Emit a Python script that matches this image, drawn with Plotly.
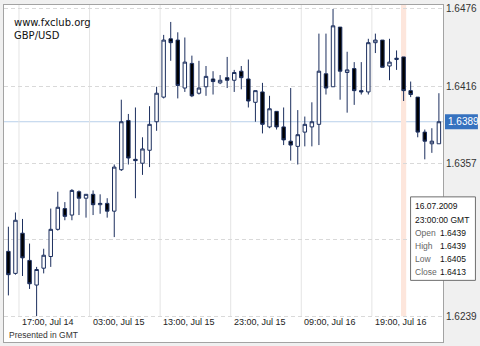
import pandas as pd
import plotly.graph_objects as go

# ---------------- data ----------------
start_time = "2009-07-14 15:00"
n_candles = 62
opens = [1.6289, 1.6272, 1.6303, 1.6282, 1.6263, 1.6276, 1.6285, 1.6306, 1.6322, 1.6317,
         1.6335, 1.6330, 1.6333, 1.6325, 1.6326, 1.6320, 1.6352, 1.6390, 1.6360, 1.6357,
         1.6367, 1.6389, 1.6408, 1.6453, 1.6452, 1.6415, 1.6434, 1.6411, 1.6416, 1.6422,
         1.6419, 1.6423, 1.6421, 1.6428, 1.6422, 1.6404, 1.6412, 1.6385, 1.6397, 1.6385,
         1.6374, 1.6370, 1.6381, 1.6385, 1.6387, 1.6426, 1.6416, 1.6462, 1.6427, 1.6430,
         1.6413, 1.6412, 1.6450, 1.6452, 1.6432, 1.6437, 1.6439, 1.6413, 1.6408, 1.6381,
         1.6372, 1.6372]
highs = [1.6308, 1.6319, 1.6314, 1.6295, 1.6277, 1.6291, 1.6322, 1.6335, 1.6327, 1.6337,
         1.6336, 1.6333, 1.6336, 1.6333, 1.6330, 1.6356, 1.6406, 1.6395, 1.6400, 1.6377,
         1.6401, 1.6416, 1.6456, 1.6466, 1.6458, 1.6454, 1.6440, 1.6436, 1.6432, 1.6428,
         1.6425, 1.6439, 1.6429, 1.6432, 1.6437, 1.6413, 1.6419, 1.6409, 1.6397, 1.6400,
         1.6415, 1.6398, 1.6393, 1.6404, 1.6457, 1.6457, 1.6476, 1.6462, 1.6443, 1.6435,
         1.6435, 1.6453, 1.6457, 1.6452, 1.6453, 1.6444, 1.6439, 1.6420, 1.6408, 1.6383,
         1.6384, 1.6411]
lows = [1.6255, 1.6271, 1.6270, 1.6260, 1.6239, 1.6272, 1.6277, 1.6305, 1.6313, 1.6313,
        1.6317, 1.6315, 1.6317, 1.6318, 1.6315, 1.6300, 1.6351, 1.6356, 1.6330, 1.6348,
        1.6354, 1.6382, 1.6407, 1.6436, 1.6407, 1.6412, 1.6408, 1.6410, 1.6409, 1.6410,
        1.6418, 1.6415, 1.6412, 1.6414, 1.6400, 1.6389, 1.6380, 1.6384, 1.6383, 1.6371,
        1.6359, 1.6356, 1.6370, 1.6370, 1.6371, 1.6410, 1.6416, 1.6406, 1.6396, 1.6402,
        1.6410, 1.6410, 1.6442, 1.6431, 1.6421, 1.6429, 1.6405, 1.6408, 1.6377, 1.6360,
        1.6365, 1.6372]
closes = [1.6271, 1.6313, 1.6284, 1.6264, 1.6275, 1.6286, 1.6306, 1.6323, 1.6316, 1.6336,
          1.6330, 1.6333, 1.6325, 1.6326, 1.6320, 1.6354, 1.6389, 1.6361, 1.6359, 1.6368,
          1.6387, 1.6411, 1.6452, 1.6450, 1.6417, 1.6435, 1.6409, 1.6415, 1.6424, 1.6420,
          1.6421, 1.6421, 1.6427, 1.6423, 1.6405, 1.6413, 1.6387, 1.6399, 1.6385, 1.6375,
          1.6371, 1.6379, 1.6387, 1.6389, 1.6428, 1.6415, 1.6463, 1.6428, 1.6429, 1.6413,
          1.6412, 1.6450, 1.6452, 1.6431, 1.6435, 1.6438, 1.6413, 1.6410, 1.6381, 1.6374,
          1.6374, 1.6389]

tick_times = ["2009-07-14 17:00", "2009-07-15 03:00", "2009-07-15 13:00",
              "2009-07-15 23:00", "2009-07-16 09:00", "2009-07-16 19:00"]
tick_labels = ["17:00, Jul 14", "03:00, Jul 15", "13:00, Jul 15",
               "23:00, Jul 15", "09:00, Jul 16", "19:00, Jul 16"]
price_ticks = [1.6476, 1.6416, 1.6357, 1.6298, 1.6239]
price_tick_labels = ["1.6476", "1.6416", "1.6357", "", "1.6239"]
current_price = 1.6389
selected_time = "2009-07-16 23:00"
tooltip_date = "16.07.2009"
tooltip_time = "23:00:00 GMT"
tooltip_names = ["Open", "High", "Low", "Close"]
tooltip_values = ["1.6439", "1.6439", "1.6405", "1.6413"]

times = pd.date_range(start_time, periods=n_candles, freq="h")

# ---------------- figure ----------------
W, H = 480, 346
ML, MR, MT, MB = 3, 37, 3, 4
PW, PH = W - ML - MR, H - MT - MB


def px_x(px):
    return (px - ML) / PW


def px_y(py):
    return (H - MB - py) / PH


y_top = 1.647907
y_bot = 1.621906
x_lo = "2009-07-14 14:52:40"
x_hi = "2009-07-17 05:04:50"

navy = "#1c2f5e"
fig = go.Figure()
fig.add_trace(go.Candlestick(
    x=times, open=opens, high=highs, low=lows, close=closes,
    xperiod=3600000, xperiodalignment="middle",
    increasing=dict(fillcolor="#ffffff", line=dict(color=navy, width=1)),
    decreasing=dict(fillcolor="#000000", line=dict(color=navy, width=1)),
    whiskerwidth=0, showlegend=False, hoverinfo="skip",
))

shapes = []
# vertical grid lines
for t in tick_times:
    shapes.append(dict(type="line", xref="x", yref="y", x0=t, x1=t,
                       y0=price_ticks[-1], y1=y_top, layer="below",
                       line=dict(color="#e4e4e4", width=1)))
# highlighted candle band
sel = pd.Timestamp(selected_time) + pd.Timedelta(minutes=30)
shapes.append(dict(type="rect", xref="x", yref="y",
                   x0=sel - pd.Timedelta(minutes=22), x1=sel + pd.Timedelta(minutes=22),
                   y0=price_ticks[-1], y1=y_top, layer="below",
                   fillcolor="#fde6dc", line=dict(width=0)))
# current price line
shapes.append(dict(type="line", xref="paper", yref="y", x0=0, x1=1,
                   y0=current_price, y1=current_price, layer="below",
                   line=dict(color="#b9d0ea", width=1)))
# current price box on axis
shapes.append(dict(type="rect", xref="paper", yref="y",
                   x0=px_x(445), x1=px_x(478),
                   y0=current_price - 0.00058, y1=current_price + 0.00058,
                   fillcolor="#3672bf", line=dict(width=0), layer="above"))
# tooltip box
shapes.append(dict(type="rect", xref="paper", yref="paper",
                   x0=px_x(410.5), x1=px_x(475.5), y0=px_y(280), y1=px_y(196),
                   fillcolor="#ffffff", line=dict(color="#6e6e6e", width=1),
                   layer="above"))

ann = []
lab_font = dict(family="Liberation Sans, Arial, sans-serif", size=9, color="#222222")
for t, lab in zip(tick_times, tick_labels):
    ann.append(dict(x=t, y=px_y(322), xref="x", yref="paper", text=lab,
                    showarrow=False, xanchor="left", yanchor="middle", xshift=1,
                    font=lab_font))
ann.append(dict(x=px_x(6), y=px_y(335), xref="paper", yref="paper",
                text="Presented in GMT", showarrow=False, xanchor="left",
                yanchor="middle", font=dict(family="Liberation Sans, Arial, sans-serif",
                                            size=8.5, color="#333333")))
ann.append(dict(x=px_x(11), y=px_y(21), xref="paper", yref="paper",
                text="www.fxclub.org", showarrow=False, xanchor="left",
                yanchor="middle", font=dict(family="DejaVu Sans", size=10, color="#111111")))
ann.append(dict(x=px_x(11), y=px_y(34), xref="paper", yref="paper",
                text="GBP/USD", showarrow=False, xanchor="left",
                yanchor="middle", font=dict(family="DejaVu Sans", size=10, color="#111111")))
ann.append(dict(x=px_x(446), y=current_price, xref="paper", yref="y",
                text=f"{current_price:.4f}", showarrow=False, xanchor="left",
                yanchor="middle", font=dict(family="Liberation Sans, Arial, sans-serif",
                                            size=10, color="#ffffff")))
# tooltip text
tip_font = dict(family="Liberation Sans, Arial, sans-serif", size=8.5, color="#111111")
tip_grey = dict(family="Liberation Sans, Arial, sans-serif", size=8.5, color="#666666")
ann.append(dict(x=px_x(413), y=px_y(205), xref="paper", yref="paper", text=tooltip_date,
                showarrow=False, xanchor="left", yanchor="middle", font=tip_font))
ann.append(dict(x=px_x(413), y=px_y(219), xref="paper", yref="paper", text=tooltip_time,
                showarrow=False, xanchor="left", yanchor="middle", font=tip_font))
for k, (nm, v) in enumerate(zip(tooltip_names, tooltip_values)):
    yy = px_y(232 + 13.3 * k)
    ann.append(dict(x=px_x(413), y=yy, xref="paper", yref="paper", text=nm,
                    showarrow=False, xanchor="left", yanchor="middle", font=tip_grey))
    ann.append(dict(x=px_x(438), y=yy, xref="paper", yref="paper", text=v,
                    showarrow=False, xanchor="left", yanchor="middle", font=tip_font))

fig.update_layout(
    width=W, height=H,
    margin=dict(l=ML, r=MR, t=MT, b=MB, pad=0),
    paper_bgcolor="#f0f0f0", plot_bgcolor="#ffffff",
    shapes=shapes, annotations=ann,
    xaxis=dict(range=[x_lo, x_hi], type="date", showgrid=False, showticklabels=False,
               zeroline=False, rangeslider=dict(visible=False), fixedrange=True,
               showline=True, mirror=True, linecolor="#a3a3a3", linewidth=1, ticks=""),
    yaxis=dict(range=[y_bot, y_top], side="right", tickvals=price_ticks,
               ticktext=price_tick_labels, showgrid=True, gridcolor="#d9d9d9",
               griddash="4px,3px", gridwidth=1, zeroline=False, ticks="",
               tickfont=dict(family="Liberation Sans, Arial, sans-serif", size=10,
                             color="#333333"),
               showline=True, mirror=True, linecolor="#a3a3a3", linewidth=1,
               fixedrange=True),
)

fig.write_html("out.html")
